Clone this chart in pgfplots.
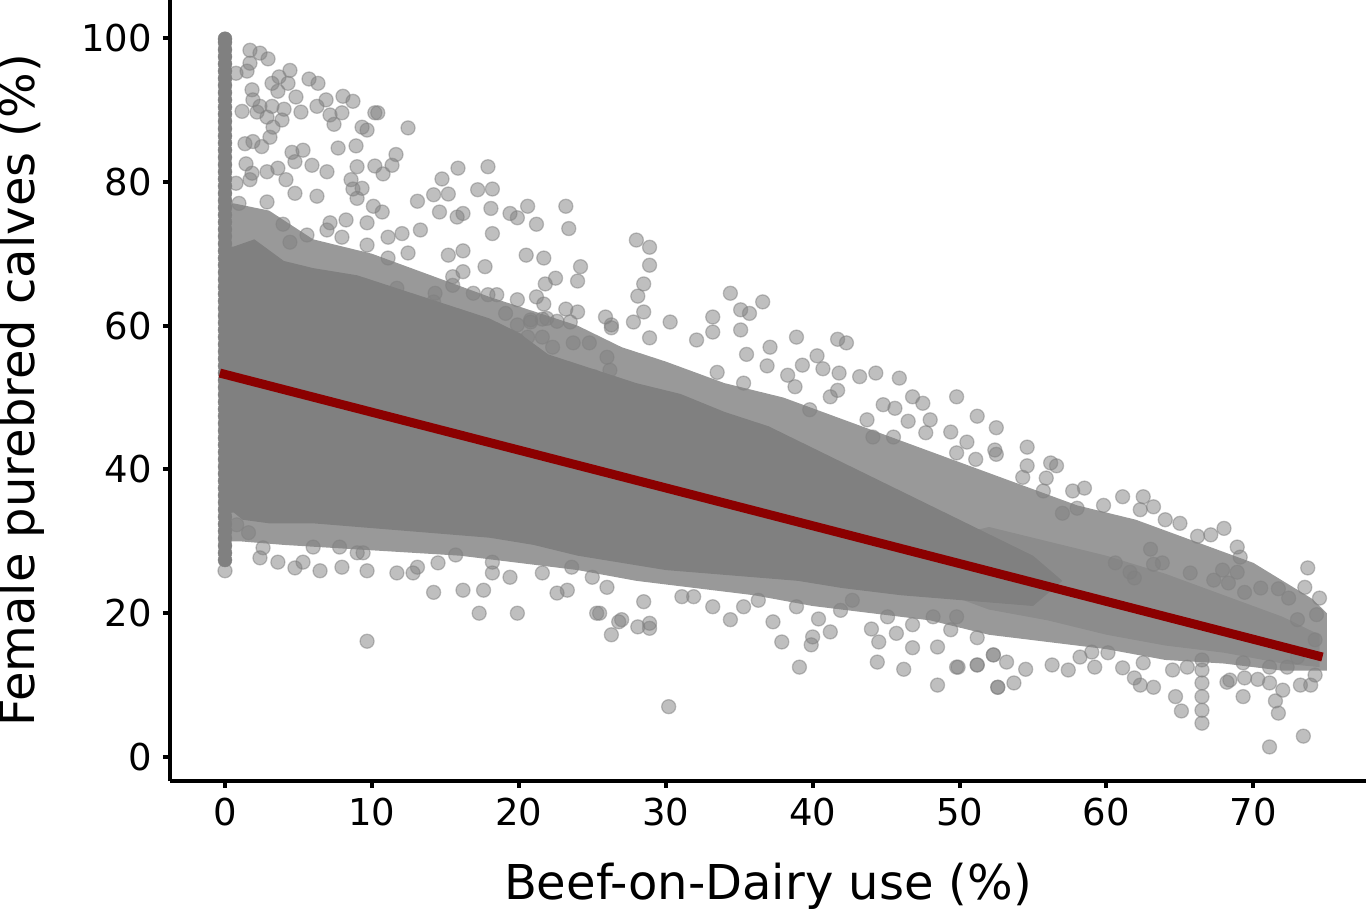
\documentclass[border=0pt]{standalone}
\usepackage{fontspec}
\setmainfont{DejaVu Sans}
\usepackage{pgfplots}
\pgfplotsset{compat=1.18}
\usepackage{pgfplotstable}
\definecolor{lnred}{HTML}{8B0000}
\pgfplotstableread{
x y
1.70 98.3
2.38 97.9
2.93 97.1
0.75 95.1
1.50 95.4
1.70 96.5
4.42 95.5
3.68 94.6
3.20 93.7
4.29 93.7
5.72 94.3
6.33 93.7
3.60 92.6
1.84 92.8
4.83 91.8
8.03 91.9
8.71 91.2
6.88 91.4
6.26 90.5
1.90 91.4
2.38 90.5
1.16 89.8
2.18 89.7
3.20 90.5
4.02 90.1
5.17 89.7
7.15 89.3
7.96 89.6
7.42 88.0
2.86 89.0
3.88 88.6
10.2 89.6
10.4 89.6
12.46 87.5
9.33 87.6
9.67 87.2
3.27 87.6
3.06 86.2
1.36 85.3
1.90 85.6
2.50 84.9
7.70 84.7
8.92 85.0
4.56 84.1
5.31 84.4
4.76 82.8
5.92 82.3
11.64 83.8
8.99 82.1
10.2 82.2
11.37 82.3
10.76 81.1
6.94 81.4
1.43 82.5
1.84 81.2
2.86 81.4
3.60 81.9
0.75 79.8
1.70 80.3
4.15 80.3
15.86 81.9
17.9 82.1
14.77 80.4
8.58 80.3
8.71 79.0
9.33 79.1
8.99 77.7
4.76 78.4
6.26 78.0
14.2 78.2
15.2 78.3
17.2 78.9
18.2 79.0
13.1 77.3
0.95 77.0
2.86 77.2
18.1 76.3
20.6 76.6
23.2 76.6
10.1 76.6
10.7 75.8
14.6 75.8
15.8 75.1
16.2 75.6
19.4 75.6
19.9 75.0
21.2 74.1
23.4 73.5
18.2 72.8
13.3 73.3
12.05 72.8
11.1 72.3
8.24 74.7
7.15 74.3
9.67 74.3
3.95 74.1
5.58 72.6
4.42 71.6
6.94 73.3
7.96 72.3
9.67 71.2
12.46 70.1
11.1 69.4
15.2 69.8
16.2 70.4
20.5 69.8
21.7 69.4
17.7 68.2
24.2 68.2
24.0 66.2
22.5 66.6
21.8 65.8
15.5 66.8
16.2 67.5
15.5 65.6
16.9 64.5
17.9 64.3
18.5 64.3
19.9 63.6
21.2 64.0
21.7 63.0
23.2 62.3
24.0 61.9
25.9 61.2
26.3 60.1
19.1 61.7
19.9 60.1
20.8 60.5
21.6 60.9
22.6 60.6
23.5 60.5
14.3 64.5
14.2 63.3
11.7 65.2
10.3 64.5
20.8 60.8
21.9 61.0
26.3 59.7
23.7 57.6
24.8 57.6
22.3 57.0
26.0 55.6
26.2 53.8
23.3 52.9
25.1 52.9
20.6 58.4
21.6 58.4
19.9 58.0
28.0 71.9
28.9 70.9
28.9 68.4
28.5 65.8
28.1 64.1
34.4 64.5
36.6 63.3
35.1 62.2
35.7 61.7
28.5 61.9
27.8 60.5
30.3 60.5
33.2 61.2
33.2 59.1
35.1 59.4
38.9 58.4
41.7 58.1
42.3 57.6
37.1 57.0
32.1 58.0
28.9 58.3
35.5 56.0
40.3 55.8
36.9 54.4
39.3 54.5
38.3 53.1
40.7 54.0
41.8 53.4
43.2 52.9
44.3 53.4
45.9 52.7
33.5 53.5
38.8 51.5
35.3 52.0
41.7 51.0
46.8 50.1
47.5 49.2
49.8 50.1
51.2 47.4
44.8 49.0
45.6 48.5
41.2 50.1
39.8 48.3
46.5 46.7
48.0 46.9
49.4 45.2
50.5 43.8
52.4 42.7
51.1 41.4
49.8 42.3
43.7 46.9
44.1 44.5
45.5 44.5
47.7 45.1
30.2 7.0
26.3 17.0
27.0 19.1
28.1 18.1
28.9 17.9
28.9 18.6
25.5 20.0
34.4 19.1
37.3 18.8
37.9 16.0
39.1 12.5
39.9 15.6
40.0 16.7
41.2 17.4
40.4 19.2
44.0 17.8
44.5 16.0
44.4 13.2
46.2 12.2
46.8 15.2
46.8 18.4
45.7 17.2
48.5 10.0
48.5 15.3
49.8 12.5
51.2 12.8
52.3 14.2
52.6 9.7
49.4 17.7
51.2 16.6
36.3 21.8
35.3 20.9
33.2 20.9
28.5 21.6
26.0 23.6
31.1 22.3
31.9 22.3
38.9 20.9
41.9 20.4
42.7 21.8
45.1 19.5
48.2 19.5
49.8 19.5
9.67 16.1
0.00 25.9
2.59 29.1
2.38 27.7
3.60 27.1
4.76 26.3
5.31 27.1
6.47 25.9
7.96 26.4
9.67 25.9
9.40 28.4
11.7 25.6
14.2 22.9
16.2 23.2
17.3 20.0
17.6 23.2
19.9 20.0
25.3 20.0
26.8 18.8
22.6 22.8
23.3 23.2
18.2 25.6
18.2 27.1
19.4 25.0
21.6 25.6
25.0 25.0
23.6 26.4
15.7 28.1
14.5 27.0
12.8 25.6
13.1 26.4
9.0 28.4
6.0 29.2
7.8 29.2
0.8 32.3
1.6 31.2
52.5 45.8
52.5 42.1
54.6 43.1
54.6 40.5
54.3 38.9
56.2 40.9
56.6 40.5
55.9 38.8
55.7 37.0
57.7 37.0
58.5 37.4
61.1 36.2
62.5 36.2
63.2 34.8
62.3 34.4
59.8 35.0
58.0 34.6
57.0 33.9
64.0 33.0
65.0 32.5
68.0 31.8
67.1 30.9
66.2 30.7
68.9 29.2
69.1 27.8
63.0 28.9
63.2 26.8
63.8 27.0
60.6 27.0
73.7 26.3
73.5 23.6
74.5 22.1
71.7 23.4
72.4 22.1
70.5 23.5
69.4 22.9
67.9 26.0
68.9 25.7
68.3 24.2
65.7 25.6
67.3 24.6
61.6 25.7
61.9 24.9
74.3 19.8
74.2 16.3
73.0 19.1
71.1 1.4
73.4 2.9
71.7 6.1
71.5 7.8
72.0 9.3
71.1 10.3
73.2 10.0
73.9 10.0
74.2 11.4
69.3 8.4
68.4 10.7
69.4 11.0
70.3 10.8
66.5 4.7
66.5 6.5
66.5 8.4
66.5 10.3
66.5 12.1
66.5 13.5
65.1 6.4
64.7 8.4
63.2 9.7
62.3 10.0
61.9 11.0
61.1 12.4
64.5 12.1
65.5 12.5
62.5 13.1
60.1 14.5
59.2 12.5
59.0 14.6
57.4 12.1
56.3 12.8
58.2 13.9
54.5 12.2
53.7 10.3
52.6 9.7
53.2 13.2
52.3 14.2
51.2 12.8
49.9 12.5
71.1 12.5
72.3 12.5
73.0 13.9
69.3 13.1
68.2 10.4
}\pts
\begin{document}
\begin{tikzpicture}
\begin{axis}[
  scale only axis,
  width=1196pt, height=781pt,
  at={(0pt,0pt)}, anchor=south west,
  xmin=-3.744, xmax=77.67,
  ymin=-3.338, ymax=105.29,
  axis lines=left,
  axis line style={-, line width=4pt, black},
  xtick={0,10,...,70},
  ytick={0,20,...,100},
  tick align=outside,
  major tick length=7pt,
  every tick/.style={black, line width=4pt},
  /pgf/number format/assume math mode=true,
  tick label style={font=\fontsize{37}{44}\selectfont},
  xticklabel style={inner sep=0pt, yshift=-10pt},
  yticklabel style={inner sep=0pt, xshift=-11pt},
  label style={font=\fontsize{48}{56}\selectfont},
  xlabel={Beef-on-Dairy use (\%)},
  ylabel={Female purebred calves (\%)},
  xlabel style={at={(axis description cs:0.5,-0.1344)}, anchor=center},
  ylabel style={at={(axis description cs:-0.1246,0.5)}, anchor=center},
  clip=false,
  clip marker paths=true,
]
% outer halo of overlapping points
\addplot[draw=none, fill=gray, fill opacity=0.8] coordinates {
 (0,77) (0.6,77) (3,76) (6,72) (10,70) (14,67) (18,64) (21,62) (24,60) (27,57)
 (30,55) (34,52) (38,50) (42,47) (46,44) (50,41) (54,38) (58,35) (62,33) (66,30)
 (70,27) (74,22) (75,20) (75,12) (72,12) (68,13) (64,13.5) (60,15) (56,16)
 (52,17) (48,19) (44,20) (40,21) (36,22.5) (32,23.5) (28,24.5) (24,26) (20,27)
 (16,28) (12,28.5) (8,29) (4,29.5) (1,30) (0,30)} -- cycle;
% inner right band
\addplot[draw=none, fill=gray, fill opacity=0.5] coordinates {
 (48,27) (50,31) (52,32) (56,30) (60,28) (64,25.5) (68,22.5) (72,19.5) (74.5,17)
 (74.5,12.5) (72,13) (68,14.5) (64,15.5) (60,17) (56,19) (52,20.5) (50,22)} -- cycle;
% solid core
\addplot[draw=none, fill=gray] coordinates {
 (0,71) (0.6,71) (2,72) (4,69) (6,68) (9,67) (12,65) (15,63) (18,61) (20,59)
 (22,56) (25,54) (28,52) (31,50.5) (34,48) (37,46) (40,43) (43,40) (46,37)
 (49,34) (52,31) (55,28) (57,24.5) (55,21) (52,21.5) (49,22) (46,22.5)
 (42,23.5) (39,24.5) (36,25) (33,25.5) (30,26)
 (27,27) (24,28) (21,29.5) (18,30.5) (15,31) (12,31.5) (9,32) (6,32.5)
 (3,32.5) (1.2,33) (0.6,34) (0,34)} -- cycle;
% scattered points
\addplot[only marks, mark=*, mark size=7pt,
  mark options={fill=gray, draw=gray, opacity=0.5, line width=1.3pt}]
  table[x=x, y=y] {\pts};
% dense column at zero use
\addplot[only marks, mark=*, mark size=7pt, mark options={fill=gray, draw=gray}]
 coordinates {
 (0,27.4) (0,28.4) (0,29.4) (0,30.4) (0,31.4) (0,32.4) (0,33.4) (0,34.4) (0,35.4)
 (0,36.4) (0,37.4) (0,38.4) (0,39.4) (0,40.4) (0,41.4) (0,42.4) (0,43.4) (0,44.4)
 (0,45.4) (0,46.4) (0,47.4) (0,48.4) (0,49.4) (0,50.4) (0,51.4) (0,52.4) (0,53.4)
 (0,54.4) (0,55.4) (0,56.4) (0,57.4) (0,58.4) (0,59.4) (0,60.4) (0,61.4) (0,62.4)
 (0,63.4) (0,64.4) (0,65.4) (0,66.4) (0,67.4) (0,68.4) (0,69.4) (0,70.4) (0,71.4)
 (0,72.4) (0,73.4) (0,74.4) (0,75.4) (0,76.4) (0,77.4) (0,78.4) (0,79.4) (0,80.4)
 (0,81.4) (0,82.4) (0,83.4) (0,84.4) (0,85.4) (0,86.4) (0,87.4) (0,88.4) (0,89.4)
 (0,90.4) (0,91.4) (0,92.4) (0,93.4) (0,94.4) (0,95.4) (0,96.4) (0,97.4) (0,98.4)
 (0,99.4) (0,99.9)};
% regression line
\addplot[lnred, line width=9pt] coordinates {(-0.35,53.4) (74.7,13.9)};
\end{axis}
\pgfresetboundingbox
\path[use as bounding box] (-170pt,-132pt) rectangle (1196pt,781pt);
\end{tikzpicture}
\end{document}
